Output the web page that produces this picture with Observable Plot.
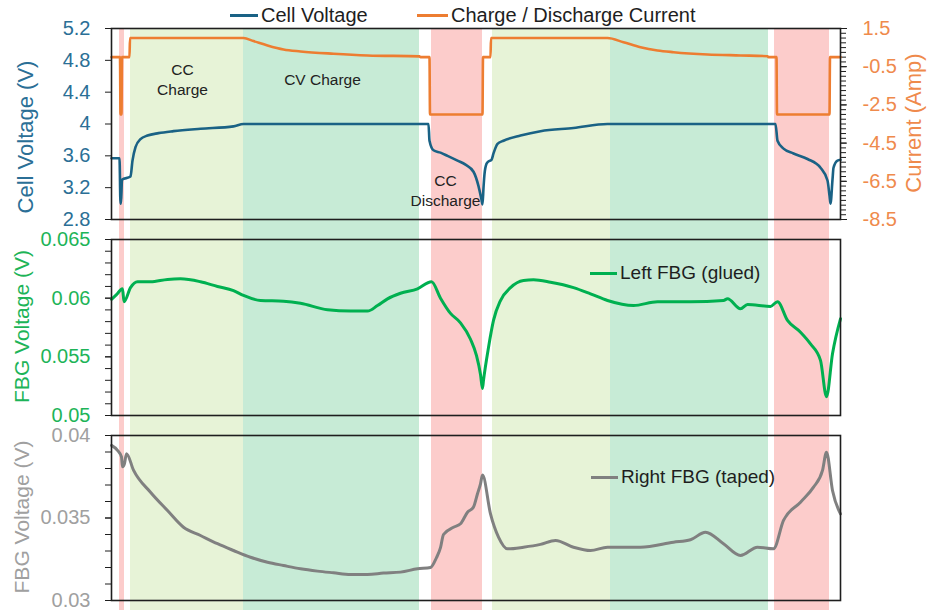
<!DOCTYPE html>
<html><head><meta charset="utf-8">
<script src="https://cdn.jsdelivr.net/npm/d3@7"></script>
<script src="https://cdn.jsdelivr.net/npm/@observablehq/plot@0.6"></script>
<style>
body{margin:0;background:#fff;}
#chart{position:relative;width:927px;height:610px;overflow:hidden;font-family:"Liberation Sans",Arial,sans-serif;background:#fff;}
#chart svg{position:absolute;left:0;}
.leg{position:absolute;display:flex;align-items:center;color:#1e1e1e;white-space:nowrap;line-height:24px;height:24px;}
.leg .sw{display:inline-block;height:3px;margin-right:3px;}
</style></head><body><div id="chart"></div>
<script>
// ---- data (time in h) ----
const phases = [
  {start: 0.08, end: 0.13, kind: "discharge"},
  {start: 0.19, end: 1.32, kind: "cc"},
  {start: 1.32, end: 3.08, kind: "cv"},
  {start: 3.20, end: 3.71, kind: "discharge"},
  {start: 3.81, end: 4.99, kind: "cc"},
  {start: 4.99, end: 6.57, kind: "cv"},
  {start: 6.63, end: 7.18, kind: "discharge"}
];
const cellVoltage = [
  [0,3.57],[0.08,3.57],[0.09,3.00],[0.095,3.00],[0.105,3.30],[0.19,3.34],[0.21,3.54],[0.24,3.71],
  [0.29,3.81],[0.36,3.855],[0.47,3.885],[0.62,3.91],[0.89,3.94],[1.22,3.97],[1.32,4.00],[3.17,4.00],
  [3.18,3.79],[3.22,3.67],[3.29,3.64],[3.36,3.60],[3.46,3.54],[3.54,3.49],[3.62,3.40],[3.67,3.22],
  [3.70,3.05],[3.71,2.99],[3.72,3.20],[3.73,3.37],[3.75,3.50],[3.77,3.53],[3.80,3.55],[3.82,3.63],
  [3.86,3.75],[3.92,3.79],[4.09,3.855],[4.29,3.91],[4.62,3.95],[4.96,4.00],[6.64,4.00],[6.66,3.79],
  [6.72,3.69],[6.82,3.63],[6.96,3.56],[7.09,3.45],[7.16,3.29],[7.18,3.10],[7.19,3.00],[7.21,3.30],
  [7.22,3.45],[7.26,3.54],[7.29,3.55]
];
const current = [
  [0,0],[0.085,0],[0.09,-3.0],[0.10,-3.0],[0.105,0],[0.18,0],[0.185,1.0],[1.32,1.0],[1.42,0.84],
  [1.56,0.61],[1.72,0.40],[1.89,0.30],[2.22,0.18],[2.56,0.09],[3.08,0.04],[3.09,0],[3.18,0],
  [3.185,-3.0],[3.71,-3.0],[3.715,0],[3.79,0],[3.795,1.0],[4.96,1.0],[5.12,0.78],[5.29,0.52],
  [5.46,0.35],[5.62,0.26],[5.96,0.14],[6.29,0.09],[6.56,0.05],[6.57,0],[6.65,0],[6.655,-3.0],
  [7.18,-3.0],[7.185,0],[7.29,0]
];
const leftFBG = [
  [0,0.0599],[0.05,0.0603],[0.11,0.0608],[0.125,0.0597],[0.19,0.0609],[0.26,0.0614],[0.39,0.0614],
  [0.56,0.0616],[0.69,0.06165],[0.89,0.0614],[1.06,0.0610],[1.22,0.06065],[1.32,0.06023],[1.49,0.0598],
  [1.72,0.05974],[1.89,0.05957],[2.16,0.05901],[2.39,0.0589],[2.56,0.0589],[2.66,0.05937],[2.76,0.05994],
  [2.89,0.06042],[3.06,0.0608],[3.20,0.0614],[3.29,0.0600],[3.39,0.0587],[3.49,0.0579],[3.59,0.0565],
  [3.65,0.0551],[3.69,0.0535],[3.71,0.0523],[3.72,0.0530],[3.77,0.0558],[3.82,0.0581],[3.89,0.0598],
  [3.99,0.0609],[4.12,0.06151],[4.22,0.06157],[4.39,0.06136],[4.62,0.0609],[4.79,0.06037],[4.96,0.0598],
  [5.22,0.05937],[5.46,0.0597],[5.79,0.0597],[6.12,0.0598],[6.16,0.05995],[6.29,0.0591],[6.36,0.05946],
  [6.59,0.0593],[6.66,0.0597],[6.76,0.0581],[6.89,0.0571],[6.99,0.0561],[7.09,0.0547],[7.15,0.0516],
  [7.21,0.05526],[7.29,0.05824]
];
const rightFBG = [
  [0,0.0394],[0.06,0.0391],[0.10,0.0387],[0.11,0.0381],[0.13,0.0383],[0.15,0.0389],[0.22,0.0379],
  [0.39,0.03656],[0.56,0.03545],[0.72,0.03444],[0.89,0.03394],[1.06,0.03344],[1.22,0.03303],[1.39,0.03262],
  [1.56,0.03232],[1.72,0.03212],[1.89,0.03192],[2.06,0.03178],[2.22,0.03168],[2.39,0.03158],[2.56,0.03158],
  [2.72,0.03166],[2.89,0.03172],[3.06,0.03192],[3.19,0.0320],[3.25,0.0326],[3.29,0.0332],[3.32,0.0340],
  [3.42,0.03444],[3.49,0.03465],[3.56,0.03535],[3.62,0.03566],[3.66,0.03647],[3.69,0.03707],[3.71,0.0376],
  [3.79,0.03525],[3.87,0.03384],[3.96,0.03313],[4.12,0.03323],[4.29,0.0334],[4.44,0.03364],[4.62,0.03323],
  [4.79,0.03303],[4.96,0.03323],[5.29,0.03323],[5.62,0.03353],[5.79,0.03368],[5.94,0.03414],[6.12,0.03344],
  [6.29,0.03273],[6.46,0.03323],[6.62,0.03313],[6.72,0.03485],[6.89,0.03596],[7.02,0.03687],[7.11,0.03788],
  [7.15,0.03899],[7.21,0.03667],[7.29,0.03525]
];
const voltTicks = [2.8, 3.2, 3.6, 4, 4.4, 4.8, 5.2];
const currentTicks = [-8.5, -6.5, -4.5, -2.5, -0.5, 1.5];
const leftFbgTicks = [0.05, 0.055, 0.06, 0.065];
const rightFbgTicks = [0.03, 0.035, 0.04];
const phaseLabels = [
  {t: 0.71, v: 4.572, label: "CC\nCharge"},
  {t: 2.11, v: 4.572, label: "CV Charge"},
  {t: 3.34, v: 3.171, label: "CC\nDischarge"}
];

// ---- layout/styles ----
const W = 927, ML = 111, MR = 87;
const xDomain = [0, 7.29];
const FONT = "'Liberation Sans', Arial, sans-serif";
const C = {
  volt: "#1a6285", voltText: "#2b6f96",
  cur: "#ed7d31", curText: "#ef8a4c",
  left: "#00b050", leftText: "#1db458",
  right: "#808080", rightText: "#a0a0a0",
  discharge: "#fccccb", cc: "#e7f3d7", cv: "#c7ebd6", axis: "#1e1e1e"
};
const chart = document.getElementById("chart");
function place(svg, top) { svg.style.top = top + "px"; chart.appendChild(svg); }
const fmt = d => String(d);
const baseStyle = {background: "transparent", fontFamily: FONT, overflow: "visible"};
const curve = "monotone-x";

// background phase bands
place(Plot.plot({
  width: W, height: 610, marginLeft: ML, marginRight: MR, marginTop: 28, marginBottom: 0,
  style: baseStyle, x: {domain: xDomain, axis: null},
  marks: ["discharge", "cc", "cv"].map(k =>
    Plot.rect(phases.filter(p => p.kind === k), {x1: "start", x2: "end", fill: C[k]}))
}), 0);

// current (right axis)
const minorCur = d3.range(-34, 7).map(i => i * 0.25);
place(Plot.plot({
  width: W, height: 230, marginLeft: ML, marginRight: MR, marginTop: 28, marginBottom: 11,
  style: baseStyle, x: {domain: xDomain, axis: null}, y: {domain: [-8.5, 1.5]},
  marks: [
    Plot.axisY(minorCur, {anchor: "right", tickSize: 5, tickFormat: () => "", stroke: C.axis, label: null}),
    Plot.axisY(currentTicks, {anchor: "right", tickSize: 6, tickPadding: 16, fontSize: 20, fill: C.curText, stroke: C.axis, tickFormat: fmt, label: null}),
    Plot.line(current, {x: d => d[0], y: d => d[1], stroke: C.cur, strokeWidth: 2.6, curve}),
    Plot.text(["Current (Amp)"], {frameAnchor: "right", textAnchor: "middle", rotate: -90, dx: 73, dy: -1, fontSize: 22, fill: C.curText})
  ]
}), 0);

// cell voltage (left axis)
place(Plot.plot({
  width: W, height: 230, marginLeft: ML, marginRight: MR, marginTop: 28, marginBottom: 11,
  style: baseStyle, x: {domain: xDomain, axis: null}, y: {domain: [2.8, 5.2]},
  marks: [
    Plot.axisY(voltTicks, {anchor: "left", tickSize: 6, tickPadding: 15, fontSize: 20, fill: C.voltText, stroke: C.axis, tickFormat: fmt, label: null}),
    Plot.line(cellVoltage, {x: d => d[0], y: d => d[1], stroke: C.volt, strokeWidth: 2.6, curve}),
    Plot.frame({stroke: C.axis, strokeWidth: 1.6}),
    Plot.text(phaseLabels, {x: "t", y: "v", text: "label", fontSize: 15.5, lineHeight: 1.29, fill: "#222"}),
    Plot.text(["Cell Voltage (V)"], {frameAnchor: "left", textAnchor: "middle", rotate: -90, dx: -86, dy: 13, fontSize: 22, fill: C.voltText})
  ]
}), 0);

// left FBG
const minorLeft = d3.range(50, 66).map(i => i / 1000);
place(Plot.plot({
  width: W, height: 196, marginLeft: ML, marginRight: MR, marginTop: 10, marginBottom: 10,
  style: baseStyle, x: {domain: xDomain, axis: null}, y: {domain: [0.05, 0.065]},
  marks: [
    Plot.axisY(minorLeft, {anchor: "left", tickSize: 6, tickFormat: () => "", stroke: C.axis, label: null}),
    Plot.axisY(leftFbgTicks, {anchor: "left", tickSize: 6, tickPadding: 15, fontSize: 20, fill: C.leftText, stroke: C.axis, tickFormat: fmt, label: null}),
    Plot.line(leftFBG, {x: d => d[0], y: d => d[1], stroke: C.left, strokeWidth: 3, curve}),
    Plot.frame({stroke: C.axis, strokeWidth: 1.6}),
    Plot.text(["FBG Voltage (V)"], {frameAnchor: "left", textAnchor: "middle", rotate: -90, dx: -89, dy: -1, fontSize: 21, fill: C.leftText})
  ]
}), 229);

// right FBG
const minorRight = d3.range(30, 41).map(i => i / 1000);
place(Plot.plot({
  width: W, height: 185, marginLeft: ML, marginRight: MR, marginTop: 10, marginBottom: 10,
  style: baseStyle, x: {domain: xDomain, axis: null}, y: {domain: [0.03, 0.04]},
  marks: [
    Plot.axisY(minorRight, {anchor: "left", tickSize: 6, tickFormat: () => "", stroke: C.axis, label: null}),
    Plot.axisY(rightFbgTicks, {anchor: "left", tickSize: 6, tickPadding: 15, fontSize: 20, fill: C.rightText, stroke: C.axis, tickFormat: fmt, label: null}),
    Plot.line(rightFBG, {x: d => d[0], y: d => d[1], stroke: C.right, strokeWidth: 3, curve}),
    Plot.frame({stroke: C.axis, strokeWidth: 1.6}),
    Plot.text(["FBG Voltage (V)"], {frameAnchor: "left", textAnchor: "middle", rotate: -90, dx: -89, dy: -1, fontSize: 21, fill: C.rightText})
  ]
}), 425);

// legends
function legend(left, top, width, color, text, size) {
  const d = document.createElement("div");
  d.className = "leg";
  d.style.left = left + "px"; d.style.top = (top - 12) + "px"; d.style.fontSize = size + "px";
  d.innerHTML = `<span class="sw" style="width:${width}px;background:${color}"></span><span>${text}</span>`;
  chart.appendChild(d);
}
legend(230, 15, 28, C.volt, "Cell Voltage", 20);
legend(417, 15, 31, C.cur, "Charge / Discharge Current", 20);
legend(590, 273, 27, C.left, "Left FBG (glued)", 19);
legend(591, 477, 27, C.right, "Right FBG (taped)", 19);
</script></body></html>
